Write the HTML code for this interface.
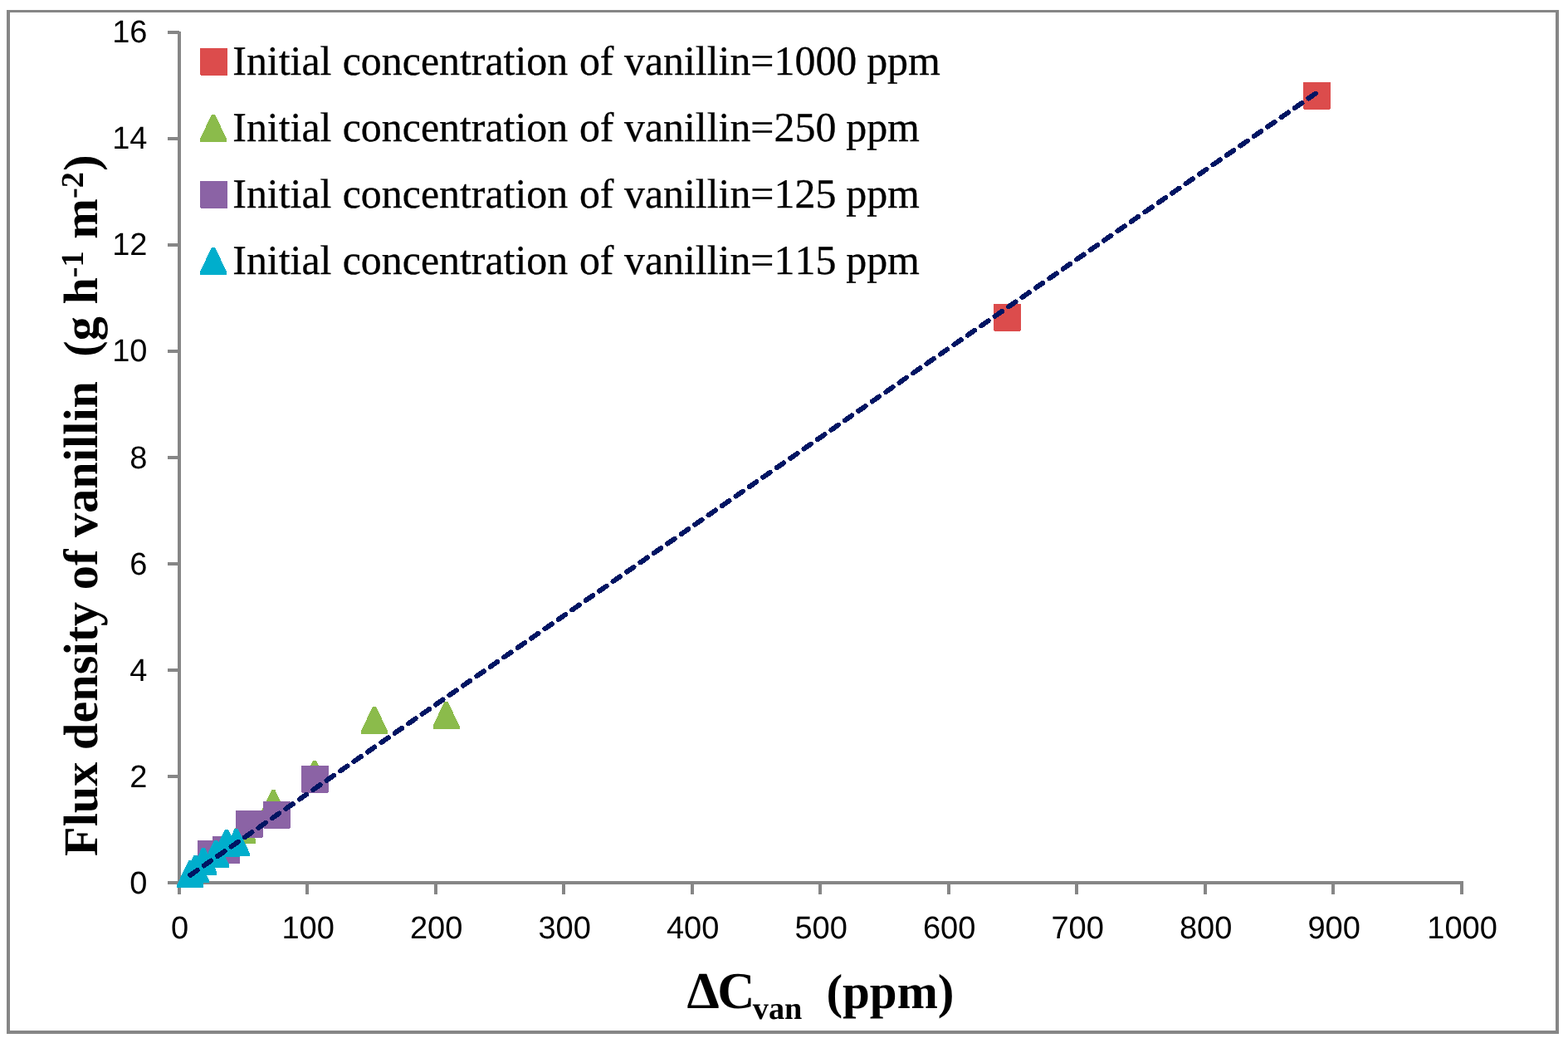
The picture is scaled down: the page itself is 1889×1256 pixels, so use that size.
<!DOCTYPE html>
<html lang="en">
<head>
<meta charset="utf-8">
<title>Flux density of vanillin vs concentration difference</title>
<style>
html,body{margin:0;padding:0;background:#fff;}
body{width:1889px;height:1256px;overflow:hidden;}
svg{display:block;}
text{font-kerning:none;text-rendering:geometricPrecision;}
.tick{font-family:"Liberation Sans",Arial,sans-serif;font-size:38px;fill:#000;}
.leg{font-family:"Liberation Serif","Times New Roman",serif;font-size:49.9px;fill:#000;stroke:#000;stroke-width:0.3px;}
.ttl{font-family:"Liberation Serif","Times New Roman",serif;font-weight:bold;font-size:58.33px;fill:#000;}
.sub{font-size:38.3px;}
</style>
</head>
<body>
<svg width="1889" height="1256" viewBox="0 0 1889 1256">
<rect x="0" y="0" width="1889" height="1256" fill="#ffffff"/>
<!-- chart frame -->
<path d="M8 12H1878V1245H8Z M12 15V1241H1874V15Z" fill="#868686" fill-rule="evenodd"/>

<g stroke="#868686" stroke-width="4" fill="none" stroke-linecap="butt">
<line x1="216.0" y1="38" x2="216.0" y2="1077"/>
<line x1="202" y1="1063.0" x2="1763" y2="1063.0"/>
<line x1="202" y1="1063.00" x2="216.0" y2="1063.00"/>
<line x1="202" y1="935.00" x2="216.0" y2="935.00"/>
<line x1="202" y1="807.00" x2="216.0" y2="807.00"/>
<line x1="202" y1="679.00" x2="216.0" y2="679.00"/>
<line x1="202" y1="551.00" x2="216.0" y2="551.00"/>
<line x1="202" y1="423.00" x2="216.0" y2="423.00"/>
<line x1="202" y1="295.00" x2="216.0" y2="295.00"/>
<line x1="202" y1="167.00" x2="216.0" y2="167.00"/>
<line x1="202" y1="39.00" x2="216.0" y2="39.00"/>
<line x1="216" y1="1063.0" x2="216" y2="1077"/>
<line x1="370" y1="1063.0" x2="370" y2="1077"/>
<line x1="525" y1="1063.0" x2="525" y2="1077"/>
<line x1="679" y1="1063.0" x2="679" y2="1077"/>
<line x1="834" y1="1063.0" x2="834" y2="1077"/>
<line x1="988" y1="1063.0" x2="988" y2="1077"/>
<line x1="1143" y1="1063.0" x2="1143" y2="1077"/>
<line x1="1297" y1="1063.0" x2="1297" y2="1077"/>
<line x1="1452" y1="1063.0" x2="1452" y2="1077"/>
<line x1="1606" y1="1063.0" x2="1606" y2="1077"/>
<line x1="1761" y1="1063.0" x2="1761" y2="1077"/>
</g>
<g class="tick" text-anchor="end">
<text x="177.5" y="1075.60">0</text>
<text x="177.5" y="947.60">2</text>
<text x="177.5" y="819.60">4</text>
<text x="177.5" y="691.60">6</text>
<text x="177.5" y="563.60">8</text>
<text x="177.5" y="434.60">10</text>
<text x="177.5" y="306.60">12</text>
<text x="177.5" y="178.60">14</text>
<text x="177.5" y="50.60">16</text>
</g>
<g class="tick" text-anchor="middle">
<text x="216.60" y="1130">0</text>
<text x="371.10" y="1130">100</text>
<text x="525.60" y="1130">200</text>
<text x="680.10" y="1130">300</text>
<text x="834.60" y="1130">400</text>
<text x="989.10" y="1130">500</text>
<text x="1143.60" y="1130">600</text>
<text x="1298.10" y="1130">700</text>
<text x="1452.60" y="1130">800</text>
<text x="1607.10" y="1130">900</text>
<text x="1761.60" y="1130">1000</text>
</g>
<g shape-rendering="crispEdges">
<path d="M1196.90 365.90H1228.90L1229.90 366.90V397.90L1228.90 398.90H1197.90L1196.90 397.90Z" fill="#DC4C4C"/>
<path d="M1570.00 98.90H1602.00L1603.00 99.90V130.90L1602.00 131.90H1571.00L1570.00 130.90Z" fill="#DC4C4C"/>
<polygon points="290.40,983.00 294.40,983.00 308.40,1012.00 308.40,1016.00 276.40,1016.00 276.40,1012.00" fill="#8BBB4B"/>
<polygon points="327.30,951.00 331.30,951.00 345.30,980.00 345.30,984.00 313.30,984.00 313.30,980.00" fill="#8BBB4B"/>
<polygon points="376.90,916.00 380.90,916.00 394.90,945.00 394.90,949.00 362.90,949.00 362.90,945.00" fill="#8BBB4B"/>
<polygon points="449.00,851.00 453.00,851.00 467.00,880.00 467.00,884.00 435.00,884.00 435.00,880.00" fill="#8BBB4B"/>
<polygon points="535.50,845.00 539.50,845.00 553.50,874.00 553.50,878.00 521.50,878.00 521.50,874.00" fill="#8BBB4B"/>
<path d="M238.00 1012.00H270.00L271.00 1013.00V1044.00L270.00 1045.00H239.00L238.00 1044.00Z" fill="#8B63A5"/>
<path d="M256.00 1007.00H288.00L289.00 1008.00V1039.00L288.00 1040.00H257.00L256.00 1039.00Z" fill="#8B63A5"/>
<path d="M284.00 975.90H316.00L317.00 976.90V1007.90L316.00 1008.90H285.00L284.00 1007.90Z" fill="#8B63A5"/>
<path d="M317.00 964.90H349.00L350.00 965.90V996.90L349.00 997.90H318.00L317.00 996.90Z" fill="#8B63A5"/>
<path d="M363.00 921.90H395.00L396.00 922.90V953.90L395.00 954.90H364.00L363.00 953.90Z" fill="#8B63A5"/>
<polygon points="227.40,1036.00 231.40,1036.00 245.40,1065.00 245.40,1069.00 213.40,1069.00 213.40,1065.00" fill="#00AECC"/>
<polygon points="233.60,1030.00 237.60,1030.00 251.60,1059.00 251.60,1063.00 219.60,1063.00 219.60,1059.00" fill="#00AECC"/>
<polygon points="243.20,1021.00 247.20,1021.00 261.20,1050.00 261.20,1054.00 229.20,1054.00 229.20,1050.00" fill="#00AECC"/>
<polygon points="258.00,1012.00 262.00,1012.00 276.00,1041.00 276.00,1045.00 244.00,1045.00 244.00,1041.00" fill="#00AECC"/>
<polygon points="271.00,999.00 275.00,999.00 289.00,1028.00 289.00,1032.00 257.00,1032.00 257.00,1028.00" fill="#00AECC"/>
<polygon points="282.70,998.00 286.70,998.00 300.70,1027.00 300.70,1031.00 268.70,1031.00 268.70,1027.00" fill="#00AECC"/>
</g>
<line x1="229.3" y1="1053.8" x2="1586.6" y2="111.4" stroke="#001563" stroke-width="6" stroke-linecap="round" stroke-dasharray="10.3 9.7" fill="none" shape-rendering="crispEdges"/>
<g shape-rendering="crispEdges">
<path d="M241.00 58.00H273.00L274.00 59.00V90.00L273.00 91.00H242.00L241.00 90.00Z" fill="#DC4C4C"/>
<text class="leg" x="280.3" y="90" xml:space="preserve">Initial<tspan dx="0.8"> concentration</tspan><tspan dx="1.2"> of vanillin=1000</tspan><tspan dx="-0.6"> ppm</tspan></text>
<polygon points="255.00,138.00 259.00,138.00 273.00,167.00 273.00,171.00 241.00,171.00 241.00,167.00" fill="#8BBB4B"/>
<text class="leg" x="280.3" y="170" xml:space="preserve">Initial<tspan dx="0.8"> concentration</tspan><tspan dx="1.2"> of vanillin=250</tspan><tspan dx="-0.6"> ppm</tspan></text>
<path d="M241.00 218.00H273.00L274.00 219.00V250.00L273.00 251.00H242.00L241.00 250.00Z" fill="#8B63A5"/>
<text class="leg" x="280.3" y="250" xml:space="preserve">Initial<tspan dx="0.8"> concentration</tspan><tspan dx="1.2"> of vanillin=125</tspan><tspan dx="-0.6"> ppm</tspan></text>
<polygon points="255.00,298.00 259.00,298.00 273.00,327.00 273.00,331.00 241.00,331.00 241.00,327.00" fill="#00AECC"/>
<text class="leg" x="280.3" y="330" xml:space="preserve">Initial<tspan dx="0.8"> concentration</tspan><tspan dx="1.2"> of vanillin=115</tspan><tspan dx="-0.6"> ppm</tspan></text>
</g>
<text class="ttl" transform="translate(117,1031) rotate(-90)" xml:space="preserve">Flux density of vanillin  (g h<tspan class="sub" dy="-17">-1</tspan><tspan dy="17"> m</tspan><tspan class="sub" dy="-17">-2</tspan><tspan dy="17" dx="1.5">)</tspan></text>
<text class="ttl" x="827.5" y="1213.7" style="font-size:62.5px">Δ<tspan dx="-2.4">C</tspan></text>
<text class="ttl sub" x="906.8" y="1227.1">van</text>
<text class="ttl" x="995.4" y="1213.7" style="font-size:59px">(ppm)</text>
</svg>
</body>
</html>
